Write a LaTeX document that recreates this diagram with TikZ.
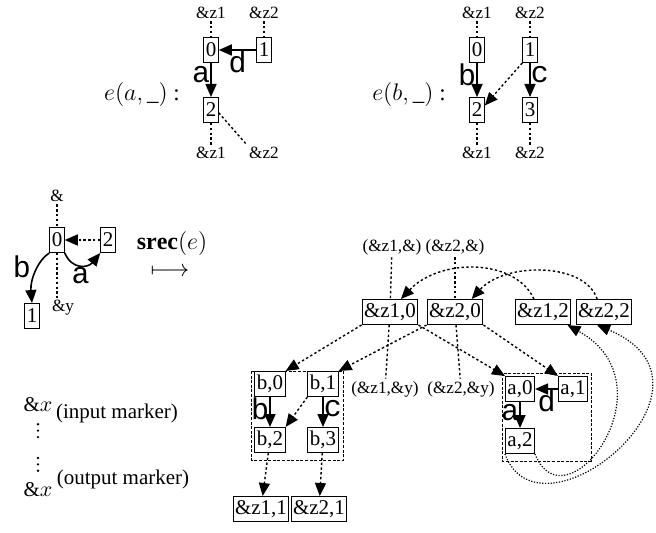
\documentclass[tikz,border=0pt]{standalone}
\usepackage{fontspec}
\setmainfont{Liberation Serif}
\newfontfamily\edgefont{Liberation Mono}
\usetikzlibrary{arrows.meta,calc}
\begin{document}
\begin{tikzpicture}[x=0.5pt,y=-0.5pt,line width=0.5pt,
box/.style={draw,font=\fontsize{10.5}{12}\selectfont,inner xsep=1pt,inner ysep=0pt,minimum height=12.5pt},
port/.style={font=\fontsize{8.6}{10}\selectfont,inner sep=1pt},
elbl/.style={font=\edgefont\fontsize{15}{15}\selectfont,inner sep=0pt},
mathlbl/.style={font=\fontsize{11.5}{13}\selectfont},
txt/.style={font=\fontsize{10.5}{12}\selectfont},
arr/.style={line width=0.8pt,-{Triangle[length=6.5pt,width=5.5pt]}},
wire/.style={line width=0.7pt,dash pattern=on 1.2pt off 1.2pt},
darr/.style={wire,-{Triangle[length=6.5pt,width=5.5pt]}},
loopy/.style={line width=0.6pt,dash pattern=on 0.6pt off 0.8pt,-{Triangle[length=6.5pt,width=5.5pt]}},
group/.style={line width=0.4pt,dash pattern=on 1.5pt off 0.8pt},
vdotsline/.style={line width=1.3pt,line cap=round,dash pattern=on 0pt off 3.2pt}]
\useasboundingbox (0,0) rectangle (656,533);

% e(a,_)
\node[mathlbl] at (142,95) (ealbl) {$e(a,\_)$ :};
\node[box] at (211,50) (ea0) {0};
\node[box] at (264,50) (ea1) {1};
\node[box] at (211,110) (ea2) {2};
\node[port] at (211,13) (eain1) {\&z1};
\node[port] at (264,13) (eain2) {\&z2};
\node[port] at (211,153) (eaout1) {\&z1};
\node[port] at (264,153) (eaout2) {\&z2};
\draw[wire] (eain1) -- (ea0);
\draw[wire] (eain2) -- (ea1);
\draw[wire] (ea2) -- (eaout1);
\draw[wire] (ea2.-20) -- (eaout2.north west);
\draw[arr] (ea0) -- node[pos=0.35,left,elbl] {a} (ea2);
\draw[arr] (ea1) -- node[midway,below,elbl] {d} (ea0);

% e(b,_)
\node[mathlbl] at (409,95) (eblbl) {$e(b,\_)$ :};
\node[box] at (477,50) (eb0) {0};
\node[box] at (530,50) (eb1) {1};
\node[box] at (477,110) (eb2) {2};
\node[box] at (530,110) (eb3) {3};
\node[port] at (477,13) (ebin1) {\&z1};
\node[port] at (530,13) (ebin2) {\&z2};
\node[port] at (477,153) (ebout1) {\&z1};
\node[port] at (530,153) (ebout2) {\&z2};
\draw[wire] (ebin1) -- (eb0);
\draw[wire] (ebin2) -- (eb1);
\draw[wire] (eb2) -- (ebout1);
\draw[wire] (eb3) -- (ebout2);
\draw[arr] (eb0) -- node[pos=0.35,left,elbl] {b} (eb2);
\draw[arr] (eb1) -- node[pos=0.35,right,elbl] {c} (eb3);
\draw[darr] (eb1.south west) -- (eb2.30);

% source graph
\node[port] at (57,196) (sin) {\&};
\node[box] at (57,240) (s0) {0};
\node[box] at (108,240) (s2) {2};
\node[box] at (32,316) (s1) {1};
\node[port] at (63,308) (sout) {\&y};
\draw[wire] (sin) -- (s0);
\draw[wire] (s0) -- (s0 |- sout.north);
\draw[darr] (s2) -- (s0);
\draw[arr] (s0.south west) .. controls (38,260) and (30,280) .. (s1.north) node[pos=0.4,left=3pt,elbl] {b};
\draw[arr] (s0.south east) .. controls (72,270) and (88,268) .. (s2.south west) node[pos=0.5,below=1pt,elbl] {a};

\node[font=\fontsize{12}{14}\selectfont,inner sep=0pt] at (172,244) (srec) {$\mathbf{srec}(e)$};
\node[font=\fontsize{12}{14}\selectfont,inner sep=0pt] at (170,272) (maps) {$\longmapsto$};

% result graph
\node[port] at (392,247) (in1) {(\&z1,\&)};
\node[port] at (455,247) (in2) {(\&z2,\&)};
\node[box] at (390,312) (z10) {\&z1,0};
\node[box] at (455,312) (z20) {\&z2,0};
\node[box] at (543,312) (z12) {\&z1,2};
\node[box] at (604,312) (z22) {\&z2,2};
\node[port] at (385,389) (out1) {(\&z1,\&y)};
\node[port] at (461,389) (out2) {(\&z2,\&y)};
\draw[wire] (in1) -- (z10);
\draw[wire] (in2) -- (z20);
\draw[wire] (z10) -- (out1);
\draw[wire] (z20) -- (out2);
\draw[darr] (z12.125) .. controls (515,258) and (440,258) .. (z10.50);
\draw[darr] (z22.118) .. controls (585,262) and (505,262) .. (z20.38);

\node[box] at (270,384) (b0) {b,0};
\node[box] at (323,384) (b1) {b,1};
\node[box] at (270,440) (b2) {b,2};
\node[box] at (323,440) (b3) {b,3};
\node[box] at (261,509) (z11) {\&z1,1};
\node[box] at (319,509) (z21) {\&z2,1};
\draw[group] ($(b0.north west)+(-3,0)$) rectangle ($(b3.south east)+(5,7)$);
\draw[arr] (b0) -- node[pos=0.4,left,elbl] {b} (b2);
\draw[arr] (b1) -- node[pos=0.4,right,elbl] {c} (b3);
\draw[darr] (b1.south west) -- (b2.north east);
\draw[darr] (b2) -- (z11);
\draw[darr] (b3) -- (z21);

\node[box] at (520,389) (a0) {a,0};
\node[box] at (573,389) (a1) {a,1};
\node[box] at (520,441) (a2) {a,2};
\coordinate (acorner) at (a1.east |- a2.south);
\draw[group] ($(a0.north west)+(-3,-3)$) rectangle ($(acorner)+(3,7)$);
\draw[arr] (a0) -- node[pos=0.4,left,elbl] {a} (a2);
\draw[arr] (a1) -- node[midway,below,elbl] {d} (a0);

\draw[darr] (z10.south west) -- (b0.north east);
\draw[darr] (z20.south west) -- (b1.north east);
\draw[darr] (z10.south east) -- (a0.north west);
\draw[darr] (z20.south east) -- (a1.north west);
\draw[loopy] (a2.south east) .. controls (565,530) and (675,385) .. ([xshift=-2pt]z12.south east);
\draw[loopy] (a2.south west) .. controls (540,550) and (740,385) .. ([xshift=-3.5pt]z22.south);

% legend
\node[txt] at (38,405) (inx) {\&$x$};
\draw[vdotsline] ([yshift=-2.5pt]inx.south) -- ++(0,14);
\node[txt] at (117,413) (inlbl) {(input marker)};
\node[txt] at (38,490) (outx) {\&$x$};
\draw[vdotsline] ([yshift=2.5pt]outx.north) -- ++(0,-14);
\node[txt] at (123,479) (outlbl) {(output marker)};
\end{tikzpicture}
\end{document}
